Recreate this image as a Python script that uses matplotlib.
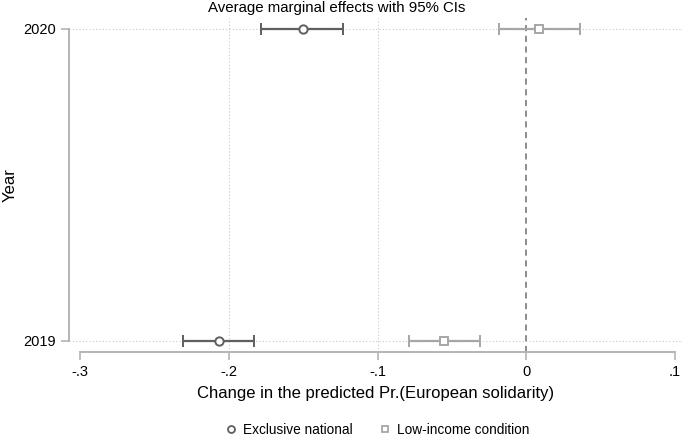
import matplotlib
matplotlib.use("Agg")
import matplotlib.pyplot as plt
from matplotlib.lines import Line2D

plt.rcParams['font.family'] = ['Liberation Sans', 'DejaVu Sans']

years = [2019, 2020]
# Exclusive national: point estimate and 95% CI
excl_est = [-0.2067, -0.1504]
excl_lo = [-0.2308, -0.1780]
excl_hi = [-0.1828, -0.1230]
# Low-income condition
low_est = [-0.0551, 0.0086]
low_lo = [-0.0788, -0.0186]
low_hi = [-0.0310, 0.0360]

xticks = [-0.3, -0.2, -0.1, 0, 0.1]
xticklabels = ['-.3', '-.2', '-.1', '0', '.1']

c_excl = '#5f5f5f'
c_low = '#a6a6a6'
c_axis = '#b4b4b4'

fig = plt.figure(figsize=(6.85, 4.43), dpi=100)
ax = fig.add_axes([69/685, 1-352/443, (683-69)/685, (352-18)/443])

# grid
for x in [-0.2, -0.1]:
    ax.axvline(x, color='#c8c8c8', lw=0.8, ls=(0, (1, 2)), zorder=0)
for y in years:
    ax.axhline(y, color='#c8c8c8', lw=0.8, ls=(0, (1, 2)), zorder=0)
ax.axvline(0, color='#6e6e6e', lw=1.1, ls=(0, (4, 3)), zorder=1)

for est, lo, hi, col, mk in [(excl_est, excl_lo, excl_hi, c_excl, 'o'),
                             (low_est, low_lo, low_hi, c_low, 's')]:
    xerr = [[e - l for e, l in zip(est, lo)], [h - e for e, h in zip(est, hi)]]
    ax.errorbar(est, years, xerr=xerr, fmt=mk, color=col, ecolor=col,
                elinewidth=1.6, capsize=4, capthick=1.4, mfc='white',
                mec=col, mew=1.4, ms=6, zorder=3)

ax.set_xlim(-0.3 - 11/1487.5, 0.1 + 8/1487.5)
ax.set_ylim(2019 - 11/312, 2020 + 11/312)
ax.set_xticks(xticks)
ax.set_xticklabels(xticklabels)
ax.set_yticks(years)
ax.set_yticklabels([str(y) for y in years])

for s in ['top', 'right']:
    ax.spines[s].set_visible(False)
ax.spines['left'].set_bounds(2019, 2020)
ax.spines['bottom'].set_bounds(-0.3, 0.1)
for s in ['left', 'bottom']:
    ax.spines[s].set_color(c_axis)
    ax.spines[s].set_linewidth(1.4)
ax.tick_params(axis='both', colors=c_axis, labelcolor='black', labelsize=10.5,
               length=6, width=1.2)

ax.set_xlabel('Change in the predicted Pr.(European solidarity)', fontsize=12, labelpad=5)
ax.set_ylabel('Year', fontsize=12, labelpad=4)

fig.text(337/685, 1-8/443, 'Average marginal effects with 95% CIs',
         ha='center', va='center', fontsize=10.8)

handles = [Line2D([], [], ls='none', marker='o', mfc='white', mec=c_excl, mew=1.3, ms=5),
           Line2D([], [], ls='none', marker='s', mfc='white', mec=c_low, mew=1.3, ms=5)]
fig.legend(handles, ['Exclusive national', 'Low-income condition'],
           loc='center', bbox_to_anchor=(376/685, 1-430/443), ncol=2,
           frameon=False, fontsize=9.8, handletextpad=0.3, columnspacing=1.8,
           handlelength=1.2)

fig.savefig('out.png', dpi=100)
